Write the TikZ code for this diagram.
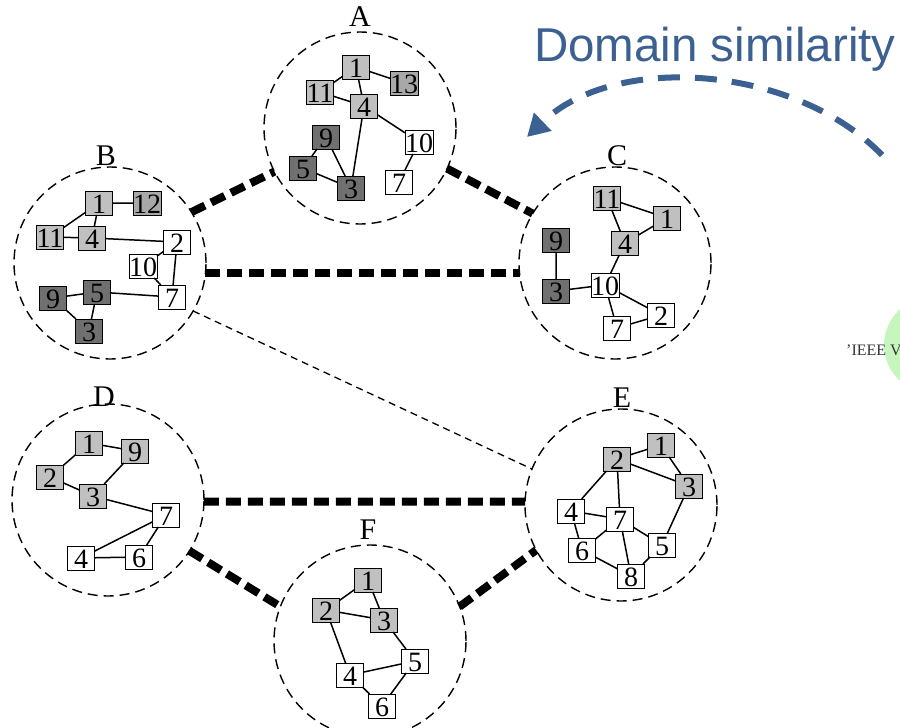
\documentclass[tikz,border=0pt]{standalone}
\usepackage{fontspec}
\setmainfont{Liberation Serif}
\newfontfamily\headsans{Liberation Sans}
\usetikzlibrary{arrows.meta}
\definecolor{lightbox}{RGB}{192,192,192}
\definecolor{midbox}{RGB}{168,168,168}
\definecolor{darkbox}{RGB}{112,112,112}
\definecolor{simblue}{RGB}{59,96,145}
\definecolor{softgreen}{RGB}{198,245,190}
\tikzset{
  vtx/.style={draw=black, line width=0.9pt, minimum width=27pt, minimum height=24pt,
    inner sep=0pt, outer sep=0pt, text height=21pt, text depth=0pt,
    font=\fontsize{28}{28}\selectfont},
  lt/.style={vtx, fill=lightbox},
  md/.style={vtx, fill=midbox},
  dk/.style={vtx, fill=darkbox},
  wt/.style={vtx, fill=white},
  dcircle/.style={circle, draw=black, line width=1.4pt, dash pattern=on 10pt off 6pt,
    minimum size=192pt, inner sep=0pt, outer sep=0pt},
  dlabel/.style={font=\fontsize{30}{30}\selectfont, inner sep=0pt},
  edgeline/.style={line width=1.5pt},
  strongtie/.style={line width=8pt, dash pattern=on 15pt off 7pt},
  weaktie/.style={line width=1.3pt, dash pattern=on 7pt off 5pt},
}
\begin{document}
\begin{tikzpicture}[x=1pt,y=-1pt]
\useasboundingbox (0,0) rectangle (900,728);
\clip (0,0) rectangle (900,728);

% partially visible item at the right edge
\fill[softgreen] (932,345) circle (48);
\node[anchor=base west, inner sep=0pt, text=black!80, font=\fontsize{16}{16}\selectfont] (ieee) at (846,355) {'IEEE V};

% title and arrow
\node[anchor=base west, inner sep=0pt, text=simblue, font=\headsans\fontsize{47.5}{47.5}\selectfont] (title) at (534,61) {Domain similarity};
\coordinate (arrS) at (882,155);
\coordinate (arrE) at (527,137);
\draw[simblue, line width=6pt, dash pattern=on 22pt off 15pt, -{Triangle[length=22pt,width=24pt]}]
  (arrS) .. controls (795,65) and (615,52) .. (arrE);

% domain circles
\node[dcircle] (cA) at (360,128) {};
\node[dcircle] (cB) at (110,263) {};
\node[dcircle] (cC) at (615,263) {};
\node[dcircle] (cD) at (108,500) {};
\node[dcircle] (cE) at (621,505) {};
\node[dcircle] (cF) at (370,641) {};

\node[dlabel] (lA) at (360,17) {A};
\node[dlabel] (lB) at (106,156) {B};
\node[dlabel] (lC) at (617,156) {C};
\node[dlabel] (lD) at (104,397) {D};
\node[dlabel] (lE) at (622,398) {E};
\node[dlabel] (lF) at (368,530) {F};

% links between domains
\draw[strongtie] (cB.32) -- (cA.207);
\draw[strongtie] (cA.335) -- (cC.149);
\draw[strongtie] (cB.-6) -- (cC.186);
\draw[weaktie] (cB.-30) -- (cE.158);
\draw[strongtie] (cD.-1) -- (cE.178);
\draw[strongtie] (cD.328) -- (cF.159);
\draw[strongtie] (cF.21) -- (cE.208);

% graph A
\node[lt] (A1) at (356,67) {1};
\node[md] (A13) at (404,83) {13};
\node[lt] (A11) at (320,92) {11};
\node[lt] (A4) at (364,106) {4};
\node[wt] (A10) at (419,142) {10};
\node[dk] (A9) at (326,137) {9};
\node[dk] (A5) at (303,168) {5};
\node[dk] (A3) at (351,188) {3};
\node[wt] (A7) at (399,182) {7};
\draw[edgeline] (A1)--(A11) (A1)--(A13) (A1)--(A4) (A11)--(A4) (A4)--(A10)
  (A4)--(A3) (A9)--(A5) (A9)--(A3) (A5)--(A3) (A10)--(A7);

% graph B
\node[lt] (B1) at (99,203) {1};
\node[md] (B12) at (147,203) {12};
\node[lt] (B11) at (50,237) {11};
\node[lt] (B4) at (92,238) {4};
\node[wt] (B2) at (177,242) {2};
\node[wt] (B10) at (143,266) {10};
\node[dk] (B9) at (53,298) {9};
\node[dk] (B5) at (97,292) {5};
\node[wt] (B7) at (172,297) {7};
\node[dk] (B3) at (89,331) {3};
\draw[edgeline] (B1)--(B12) (B1)--(B11) (B1)--(B4) (B11)--(B4) (B4)--(B2)
  (B2)--(B10) (B2)--(B7) (B10)--(B7) (B5)--(B7) (B9)--(B5) (B9)--(B3) (B5)--(B3);

% graph C
\node[lt] (C11) at (607,198) {11};
\node[lt] (C1) at (667,218) {1};
\node[dk] (C9) at (556,240) {9};
\node[lt] (C4) at (625,243) {4};
\node[wt] (C10) at (605,285) {10};
\node[dk] (C3) at (556,291) {3};
\node[wt] (C2) at (661,315) {2};
\node[wt] (C7) at (617,328) {7};
\draw[edgeline] (C11)--(C1) (C11)--(C4) (C4)--(C1) (C4)--(C10) (C9)--(C3)
  (C3)--(C10) (C10)--(C2) (C10)--(C7) (C7)--(C2);

% graph D
\node[lt] (D1) at (89,443) {1};
\node[lt] (D9) at (135,451) {9};
\node[lt] (D2) at (50,477) {2};
\node[lt] (D3) at (93,496) {3};
\node[wt] (D7) at (166,515) {7};
\node[wt] (D4) at (81,558) {4};
\node[wt] (D6) at (139,557) {6};
\draw[edgeline] (D1)--(D9) (D1)--(D2) (D2)--(D3) (D9)--(D3) (D3)--(D7)
  (D7)--(D4) (D7)--(D6) (D4)--(D6);

% graph E
\node[lt] (E1) at (661,445) {1};
\node[lt] (E2) at (617,459) {2};
\node[lt] (E3) at (689,486) {3};
\node[wt] (E4) at (571,511) {4};
\node[wt] (E7) at (620,519) {7};
\node[wt] (E5) at (662,545) {5};
\node[wt] (E6) at (582,550) {6};
\node[wt] (E8) at (631,576) {8};
\draw[edgeline] (E2)--(E1) (E1)--(E3) (E2)--(E3) (E2)--(E4) (E2)--(E7)
  (E4)--(E7) (E4)--(E6) (E7)--(E6) (E7)--(E8) (E7)--(E5) (E3)--(E5)
  (E6)--(E8) (E5)--(E8);

% graph F
\node[lt] (F1) at (368,580) {1};
\node[lt] (F2) at (326,610) {2};
\node[lt] (F3) at (384,620) {3};
\node[wt] (F5) at (415,661) {5};
\node[wt] (F4) at (350,675) {4};
\node[wt] (F6) at (382,706) {6};
\draw[edgeline] (F1)--(F2) (F1)--(F3) (F2)--(F3) (F2)--(F4) (F3)--(F5)
  (F4)--(F5) (F4)--(F6) (F5)--(F6);
\end{tikzpicture}
\end{document}
